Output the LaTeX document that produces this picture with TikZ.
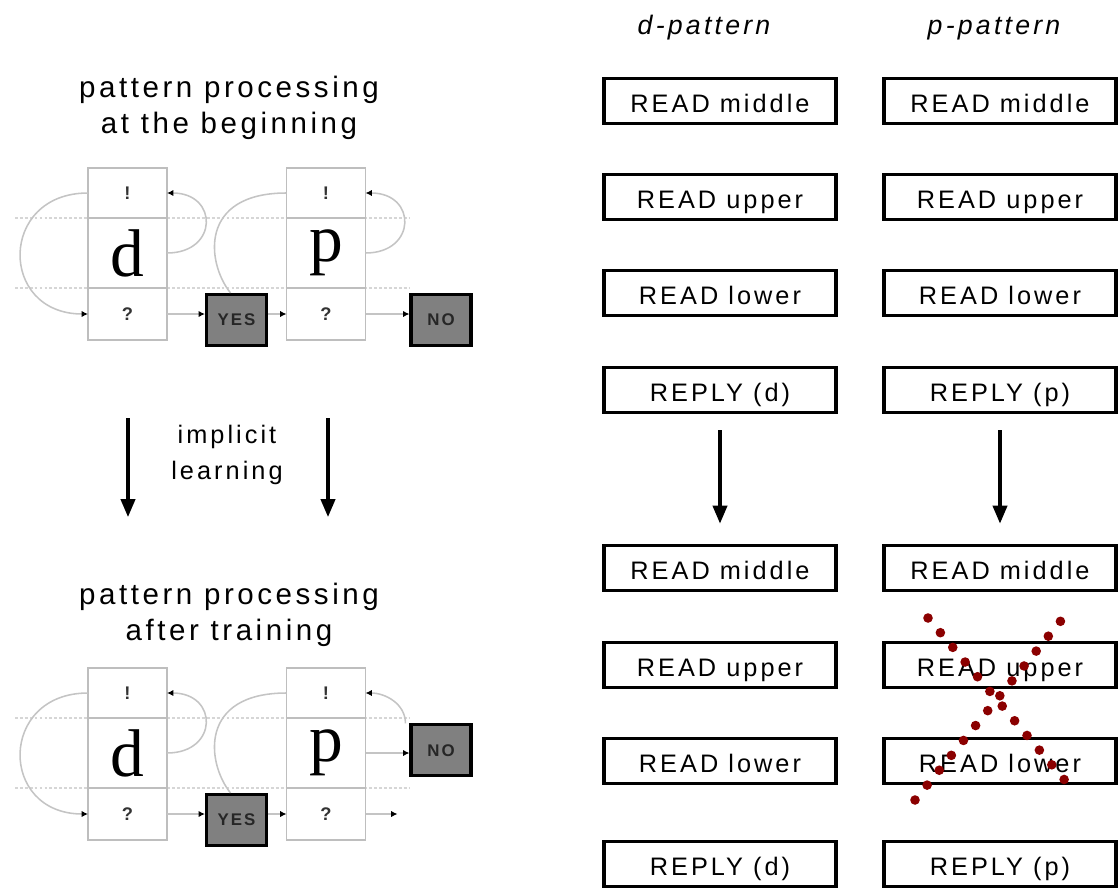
\documentclass[tikz,border=0pt]{standalone}
\usepackage{fontspec}
\setmainfont{Liberation Sans}[LetterSpace=12]
\newfontfamily\letterfont{Liberation Serif}
\usetikzlibrary{positioning,arrows.meta}
\definecolor{linegray}{RGB}{190,190,190}
\definecolor{arcgray}{RGB}{196,196,196}
\definecolor{guidegray}{RGB}{214,214,214}
\definecolor{boxgray}{RGB}{128,128,128}
\definecolor{crossred}{RGB}{139,0,0}

\begin{document}
\begin{tikzpicture}[
  cell/.style={draw=linegray, line width=1.4pt, fill=white,
    minimum width=1.975cm, inner sep=0pt, outer sep=0pt,
    font=\fontsize{13}{13}\selectfont\bfseries, text=black!80},
  letter/.style={font=\letterfont\fontsize{48}{48}\selectfont, text=black},
  answer/.style={draw=black, line width=2.2pt, fill=boxgray,
    minimum width=1.5cm, minimum height=1.275cm, inner sep=0pt,
    font=\fontsize{12}{12}\selectfont\bfseries, text=black!85},
  stepbox/.style={draw=black, line width=2.8pt, minimum width=5.8cm,
    minimum height=1.125cm, inner sep=0pt, text height=19pt,
    text depth=3pt, font=\fontsize{18}{18}\selectfont},
  heading/.style={align=center, font=\fontsize{21}{26}\selectfont},
  ptitle/.style={anchor=base, font=\fontsize{19}{19}\selectfont\itshape},
  guide/.style={guidegray, line width=1.2pt, dash pattern=on 2pt off 1.5pt},
  arc/.style={draw=arcgray, line width=1.1pt},
  flow/.style={arc, -{Latex[length=4.5pt,width=4.5pt,color=black]}},
  bigarrow/.style={-{Triangle[length=0.45cm,width=0.36cm]}, line width=2.2pt},
  crossdots/.style={crossred, line width=0.24cm, line cap=round,
    dash pattern=on 0pt off 0.48cm},
]
  \useasboundingbox (0,0) rectangle (28,-22.225);

  % === LEFT: headings and learning arrows ===
  \node[heading] (headA) at (5.725,-2.7) {pattern processing\\at the beginning};
  \node[heading] (headB) at (5.725,-15.375) {pattern processing\\after training};

  \node[heading, font=\fontsize{18}{26}\selectfont] (learn) at (5.675,-11.375)
    {implicit\\learning};
  \coordinate (lt1) at (3.2,-10.45);  \coordinate (lb1) at (3.2,-12.925);
  \coordinate (lt2) at (8.2,-10.45);  \coordinate (lb2) at (8.2,-12.925);
  \draw[bigarrow] (lt1) -- (lb1);
  \draw[bigarrow] (lt2) -- (lb2);

  % === LEFT: the two pattern diagrams ===
  \foreach \s/\o in {A/0, B/-12.5} {
    \begin{scope}[yshift=\o cm]
      % guide lines
      \draw[guide] (0.375,-5.45) -- (10.25,-5.45);
      \draw[guide] (0.375,-7.2) -- (10.25,-7.2);

      % d column
      \node[cell, minimum height=1.25cm] (dtop\s) at (3.1875,-4.825) {!};
      \node[cell, letter, minimum height=1.75cm, below=0pt of dtop\s] (dmid\s) {d};
      \node[cell, minimum height=1.3cm, below=0pt of dmid\s] (dbot\s) {?};

      % p column
      \node[cell, minimum height=1.25cm] (ptop\s) at (8.15,-4.825) {!};
      \node[cell, letter, minimum height=1.75cm, below=0pt of ptop\s] (pmid\s) {p};
      \node[cell, minimum height=1.3cm, below=0pt of pmid\s] (pbot\s) {?};

      \node[answer] (yes\s) at (5.9125,-8.0) {YES};

      % connections
      \draw[flow] (dtop\s.west) to[out=180, in=180, looseness=1.9] (dbot\s.west);
      \draw[flow] (dmid\s.east) to[out=0, in=0, looseness=2.2] (dtop\s.east);
      \draw[flow] (dbot\s.east) -- (dbot\s.east -| yes\s.west);
      \draw[flow] (yes\s.east |- pbot\s.west) -- (pbot\s.west);
      \draw[arc] (ptop\s.west) .. controls +(-2.2,0) and +(-0.6,0.75)
        .. ([xshift=-0.15cm]yes\s.north);
    \end{scope}
  }

  % NO before training
  \node[answer] (noA) at (11.025,-8.0) {NO};
  \draw[flow] (pbotA.east) -- (pbotA.east -| noA.west);
  \draw[flow] (pmidA.east) to[out=0, in=0, looseness=2.2] (ptopA.east);

  % NO after training
  \node[answer] (noB) at (11.025,-18.76) {NO};
  \draw[flow] (pmidB.east) -- (pmidB.east -| noB.west);
  \draw[flow] ([xshift=-0.1cm]noB.north west) to[out=90, in=0] (ptopB.east);
  \coordinate (pendB) at ([xshift=0.8cm]pbotB.east);
  \draw[flow] (pbotB.east) -- (pendB);

  % === RIGHT: processing steps ===
  \node[ptitle] (dhead) at (17.6,-0.875) {d-pattern};
  \node[ptitle] (phead) at (24.85,-0.875) {p-pattern};

  \foreach \i/\y/\t in {1/-2.525/READ middle, 2/-4.925/READ upper,
      3/-7.325/READ lower, 4/-9.75/REPLY (d), 5/-14.2/READ middle,
      6/-16.625/READ upper, 7/-19.025/READ lower, 8/-21.6/REPLY (d)} {
    \node[stepbox] (dstep\i) at (18,\y) {\t};
  }
  \foreach \i/\y/\t in {1/-2.525/READ middle, 2/-4.925/READ upper,
      3/-7.325/READ lower, 4/-9.75/REPLY (p), 5/-14.2/READ middle,
      6/-16.625/READ upper, 7/-19.025/READ lower, 8/-21.6/REPLY (p)} {
    \node[stepbox] (pstep\i) at (25,\y) {\t};
  }

  \draw[bigarrow] ([yshift=-0.4cm]dstep4.south) -- ([yshift=0.5cm]dstep5.north);
  \draw[bigarrow] ([yshift=-0.4cm]pstep4.south) -- ([yshift=0.5cm]pstep5.north);

  % crossed out steps
  \draw[crossdots] (23.2,-15.45) -- (26.825,-19.75);
  \draw[crossdots] (22.875,-20.0) -- (26.7,-15.3);
\end{tikzpicture}
\end{document}
